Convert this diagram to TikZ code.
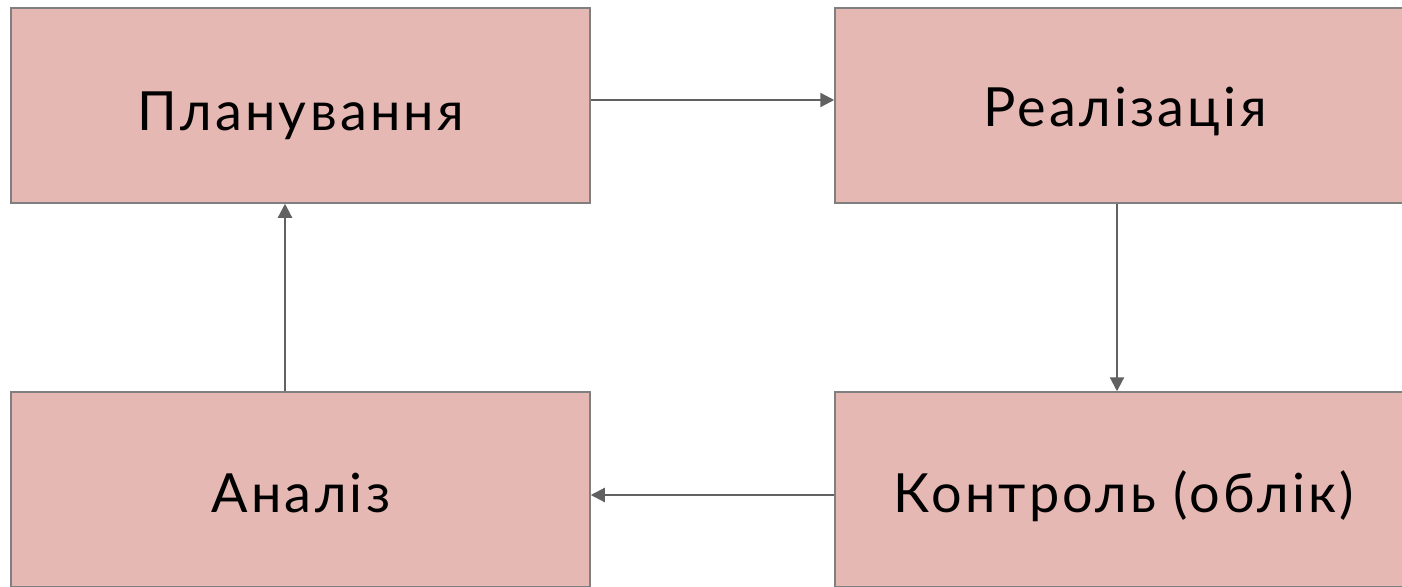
\documentclass[tikz,border=0pt]{standalone}
\usepackage{fontspec}
\setmainfont{Lato}[LetterSpace=6]
\usetikzlibrary{arrows.meta}
\definecolor{boxfill}{HTML}{E6B8B3}
\definecolor{boxline}{HTML}{7F7F7F}
\definecolor{arrowc}{HTML}{616161}
\begin{document}
\begin{tikzpicture}[x=1pt,y=-1pt,
  stagebox/.style={draw=boxline,line width=1.5pt,fill=boxfill,minimum width=579pt,minimum height=195pt,inner sep=0pt,font=\fontsize{54}{60}\selectfont,text=black},
  lbl/.style={font=\fontsize{54}{60}\selectfont,text=black,inner sep=0pt},
  flow/.style={draw=arrowc,line width=2.2pt,-{Triangle[length=14pt,width=14pt]}}]
\clip (0,0) rectangle (1402,586);
\fill[white] (0,0) rectangle (1402,586);
\node[stagebox] (plan) at (300.5,105.5) {};
\node[stagebox] (real) at (1124.5,105.5) {};
\node[stagebox] (anal) at (300.5,489.5) {};
\node[stagebox] (ctrl) at (1124.5,489.5) {};
\node[lbl,anchor=base] (planT) at (301,130) {Планування};
\node[lbl,anchor=base] (realT) at (1125,126) {Реалізація};
\node[lbl,anchor=base] (analT) at (301,512) {Аналіз};
\node[lbl,anchor=base] (ctrlT) at (1124,512) {Контроль (облік)};
\coordinate (t) at (0,100);
\coordinate (b) at (0,495);
\coordinate (r) at (1117,0);
\coordinate (l) at (285,0);
\draw[flow] (plan.east |- t) -- (real.west |- t);
\draw[flow] (real.south -| r) -- (ctrl.north -| r);
\draw[flow] (ctrl.west |- b) -- (anal.east |- b);
\draw[flow] (anal.north -| l) -- (plan.south -| l);
\end{tikzpicture}
\end{document}
